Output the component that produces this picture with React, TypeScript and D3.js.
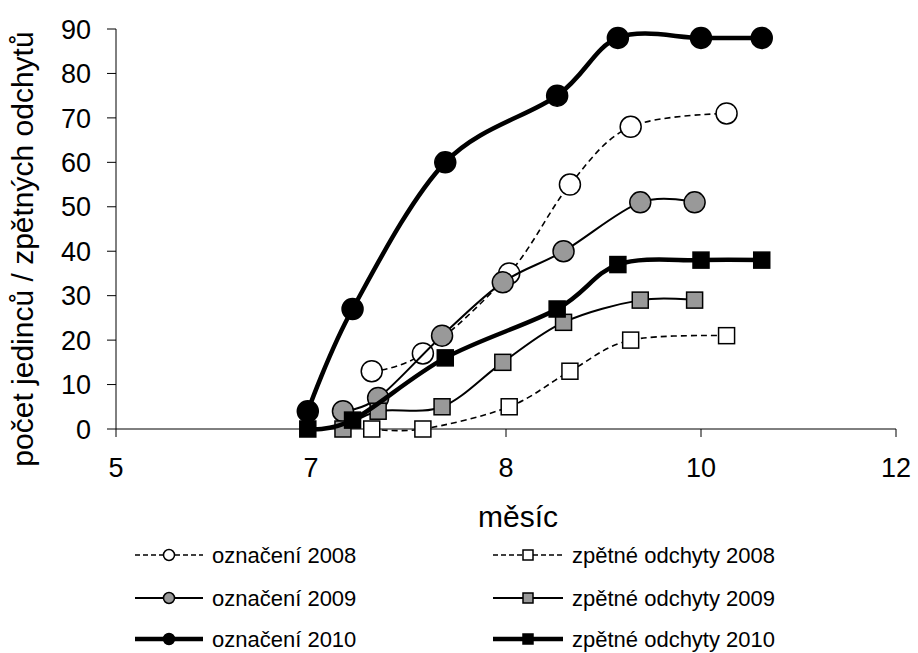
import React from "react";
import * as d3 from "d3";

// x values are day-of-year; axis ticks every 61 days from 1 May, labelled by month
const tickDays = [121, 182, 243, 304, 365];
const tickLabels = ["5", "7", "8", "10", "12"];
const yTicks = [0, 10, 20, 30, 40, 50, 60, 70, 80, 90];

const days2008 = [201, 217, 244, 263, 282, 312];
const mark2008 = [13, 17, 35, 55, 68, 71];
const recap2008 = [0, 0, 5, 13, 20, 21];

const days2009 = [192, 203, 223, 242, 261, 285, 302];
const mark2009 = [4, 7, 21, 33, 40, 51, 51];
const recap2009 = [0, 4, 5, 15, 24, 29, 29];

const days2010 = [181, 195, 224, 259, 278, 304, 323];
const mark2010 = [4, 27, 60, 75, 88, 88, 88];
const recap2010 = [0, 2, 16, 27, 37, 38, 38];

const seriesNames = [
  "označení 2008",
  "označení 2009",
  "označení 2010",
  "zpětné odchyty 2008",
  "zpětné odchyty 2009",
  "zpětné odchyty 2010",
];

type Style = { fill: string; width: number; dash?: string; shape: "circle" | "square" };
const styles: Style[] = [
  { fill: "#ffffff", width: 1.6, dash: "6,4", shape: "circle" },
  { fill: "#999999", width: 2, shape: "circle" },
  { fill: "#000000", width: 4.5, shape: "circle" },
  { fill: "#ffffff", width: 1.6, dash: "6,4", shape: "square" },
  { fill: "#999999", width: 2, shape: "square" },
  { fill: "#000000", width: 4.5, shape: "square" },
];

const seriesData = [
  { x: days2008, y: mark2008 },
  { x: days2009, y: mark2009 },
  { x: days2010, y: mark2010 },
  { x: days2008, y: recap2008 },
  { x: days2009, y: recap2009 },
  { x: days2010, y: recap2010 },
];

const FONT = "'Liberation Sans', Arial, sans-serif";

export default function App() {
  const W = 918, H = 653;
  const x = d3.scaleLinear().domain([121, 365]).range([116, 896]);
  const y = d3.scaleLinear().domain([0, 90]).range([429, 29]);
  const line = d3
    .line<[number, number]>()
    .x((d) => x(d[0]))
    .y((d) => y(d[1]))
    .curve(d3.curveCardinal.tension(0));

  const legendRows = [555, 598, 639];
  const legendCols = [
    { x0: 135, x1: 203, tx: 212 },
    { x0: 493, x1: 563, tx: 572 },
  ];

  const marker = (s: Style, cx: number, cy: number, big: boolean, key: string) => {
    if (s.shape === "circle") {
      const r = big ? 10.5 : 5.5;
      return <circle key={key} cx={cx} cy={cy} r={r} fill={s.fill} stroke="#000" strokeWidth={1.5} />;
    }
    const a = big ? 16 : 10;
    return (
      <rect key={key} x={cx - a / 2} y={cy - a / 2} width={a} height={a} fill={s.fill} stroke="#000" strokeWidth={1.5} />
    );
  };

  return (
    <svg width={W} height={H} style={{ position: "absolute", left: 0, top: 0, background: "#fff" }} fontFamily={FONT}>
      <rect x={0} y={0} width={W} height={H} fill="#fff" />
      {/* axes */}
      <line x1={116} x2={116} y1={y(90)} y2={y(0)} stroke="#000" strokeWidth={1} />
      <line x1={116} x2={896} y1={y(0)} y2={y(0)} stroke="#000" strokeWidth={1} />
      {yTicks.map((t) => (
        <g key={"yt" + t}>
          <line x1={107} x2={116} y1={y(t)} y2={y(t)} stroke="#000" strokeWidth={1} />
          <text x={91} y={y(t)} dy="0.36em" textAnchor="end" fontSize={27} fill="#000">
            {t}
          </text>
        </g>
      ))}
      {tickDays.map((t, i) => (
        <g key={"xt" + t}>
          <line x1={x(t)} x2={x(t)} y1={y(0)} y2={y(0) + 8} stroke="#000" strokeWidth={1} />
          <text x={x(t)} y={477} textAnchor="middle" fontSize={27} fill="#000">
            {tickLabels[i]}
          </text>
        </g>
      ))}
      <text
        transform={`translate(33,249) rotate(-90)`}
        textAnchor="middle"
        fontSize={30}
        fill="#000"
      >
        počet jedinců / zpětných odchytů
      </text>
      <text x={518} y={527} textAnchor="middle" fontSize={30} fill="#000">
        měsíc
      </text>

      {/* series */}
      {seriesData.map((sd, i) => {
        const s = styles[i];
        const pts = sd.x.map((d, j) => [d, sd.y[j]] as [number, number]);
        return (
          <g key={"s" + i}>
            <path d={line(pts) || ""} fill="none" stroke="#000" strokeWidth={s.width} strokeDasharray={s.dash} />
            {pts.map((p, j) => marker(s, x(p[0]), y(p[1]), true, "m" + i + "-" + j))}
          </g>
        );
      })}

      {/* legend */}
      {seriesNames.map((name, i) => {
        const col = legendCols[Math.floor(i / 3)];
        const cy = legendRows[i % 3];
        const s = styles[i];
        const cx = (col.x0 + col.x1) / 2;
        return (
          <g key={"lg" + i}>
            <line x1={col.x0} x2={col.x1} y1={cy} y2={cy} stroke="#000" strokeWidth={s.width} strokeDasharray={s.dash ? "5,3" : undefined} />
            {marker(s, cx, cy, false, "lm" + i)}
            <text x={col.tx} y={cy} dy="0.36em" fontSize={22} fill="#000">
              {name}
            </text>
          </g>
        );
      })}
    </svg>
  );
}
